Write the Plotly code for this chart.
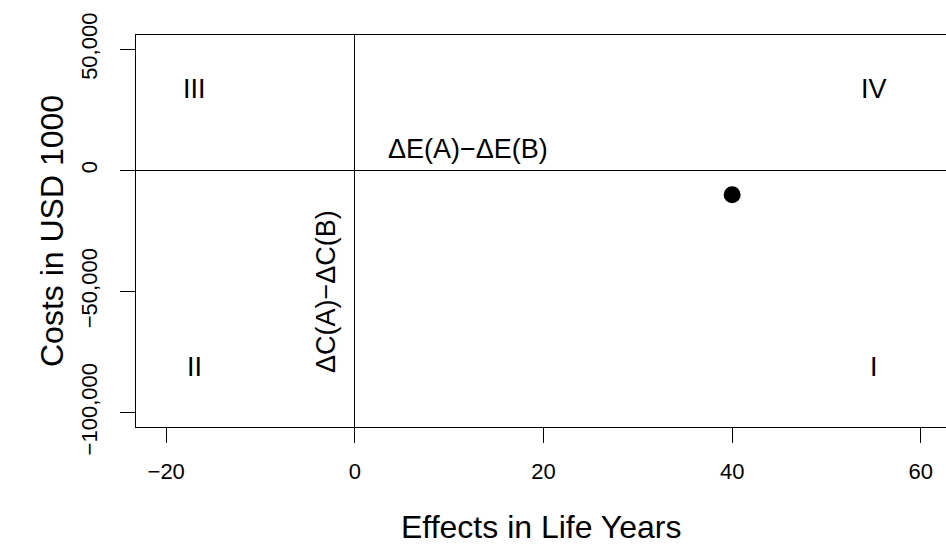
import plotly.graph_objects as go

# Data
point_x = [40]
point_y = [-10000]

quad_labels = ["III", "IV", "II", "I"]
quad_x = [-17, 55, -17, 55]
quad_y = [35000, 35000, -80000, -80000]

de_label = ["ΔE(A)−ΔE(B)"]
de_x = [12]
de_y = [10000]

dc_label = "ΔC(A)−ΔC(B)"
dc_x = -3
dc_y = -50000

x_ticks = [-20, 0, 20, 40, 60]
y_ticks = [-100000, -50000, 0, 50000]

FONT = "Liberation Sans, Arial, Helvetica, sans-serif"

fig = go.Figure()
fig.add_trace(go.Scatter(x=point_x, y=point_y, mode="markers",
                         marker=dict(color="black", size=17),
                         showlegend=False, hoverinfo="skip"))

for lbl, lx, ly in zip(quad_labels + de_label, quad_x + de_x, quad_y + de_y):
    fig.add_annotation(x=lx, y=ly, xref="x", yref="y", text=lbl, showarrow=False,
                       xanchor="center", yanchor="middle", yshift=-3,
                       font=dict(family=FONT, size=27, color="black"))

fig.add_annotation(x=dc_x, y=dc_y, xref="x", yref="y", text=dc_label, textangle=-90,
                   showarrow=False, font=dict(family=FONT, size=27, color="black"))

# axis titles
fig.add_annotation(x=0.5, y=-100 / 392, xref="paper", yref="paper", text="Effects in Life Years",
                   showarrow=False, xanchor="center", yanchor="middle",
                   font=dict(family=FONT, size=32, color="black"))
fig.add_annotation(x=-84 / 810, y=0.5, xref="paper", yref="paper", text="Costs in USD 1000",
                   textangle=-90, showarrow=False, xanchor="center", yanchor="middle",
                   font=dict(family=FONT, size=32, color="black"))

fig.update_xaxes(range=[-23.2, 62.67], tickvals=x_ticks, ticks="outside", ticklen=15,
                 tickwidth=1, tickcolor="black", showline=True, mirror=True,
                 linecolor="black", linewidth=1, showgrid=False, zeroline=True,
                 zerolinecolor="black", zerolinewidth=1,
                 tickfont=dict(family=FONT, size=22, color="black"),
                 ticklabelstandoff=10)
fig.update_yaxes(range=[-106000, 56000], tickvals=y_ticks, tickformat=",", ticks="outside",
                 ticklen=15, tickwidth=1, tickcolor="black", showline=True, mirror=False,
                 linecolor="black", linewidth=1, showgrid=False, zeroline=True,
                 zerolinecolor="black", zerolinewidth=1, tickangle=-90,
                 tickfont=dict(family=FONT, size=22, color="black"),
                 ticklabelstandoff=14)

fig.update_layout(width=946, height=545, margin=dict(l=136, r=0, t=35, b=118),
                  plot_bgcolor="white", paper_bgcolor="white", showlegend=False)

fig.write_html("out.html", config={"displayModeBar": False},
               post_script="document.body.style.margin='0';document.body.style.overflow='hidden';")
